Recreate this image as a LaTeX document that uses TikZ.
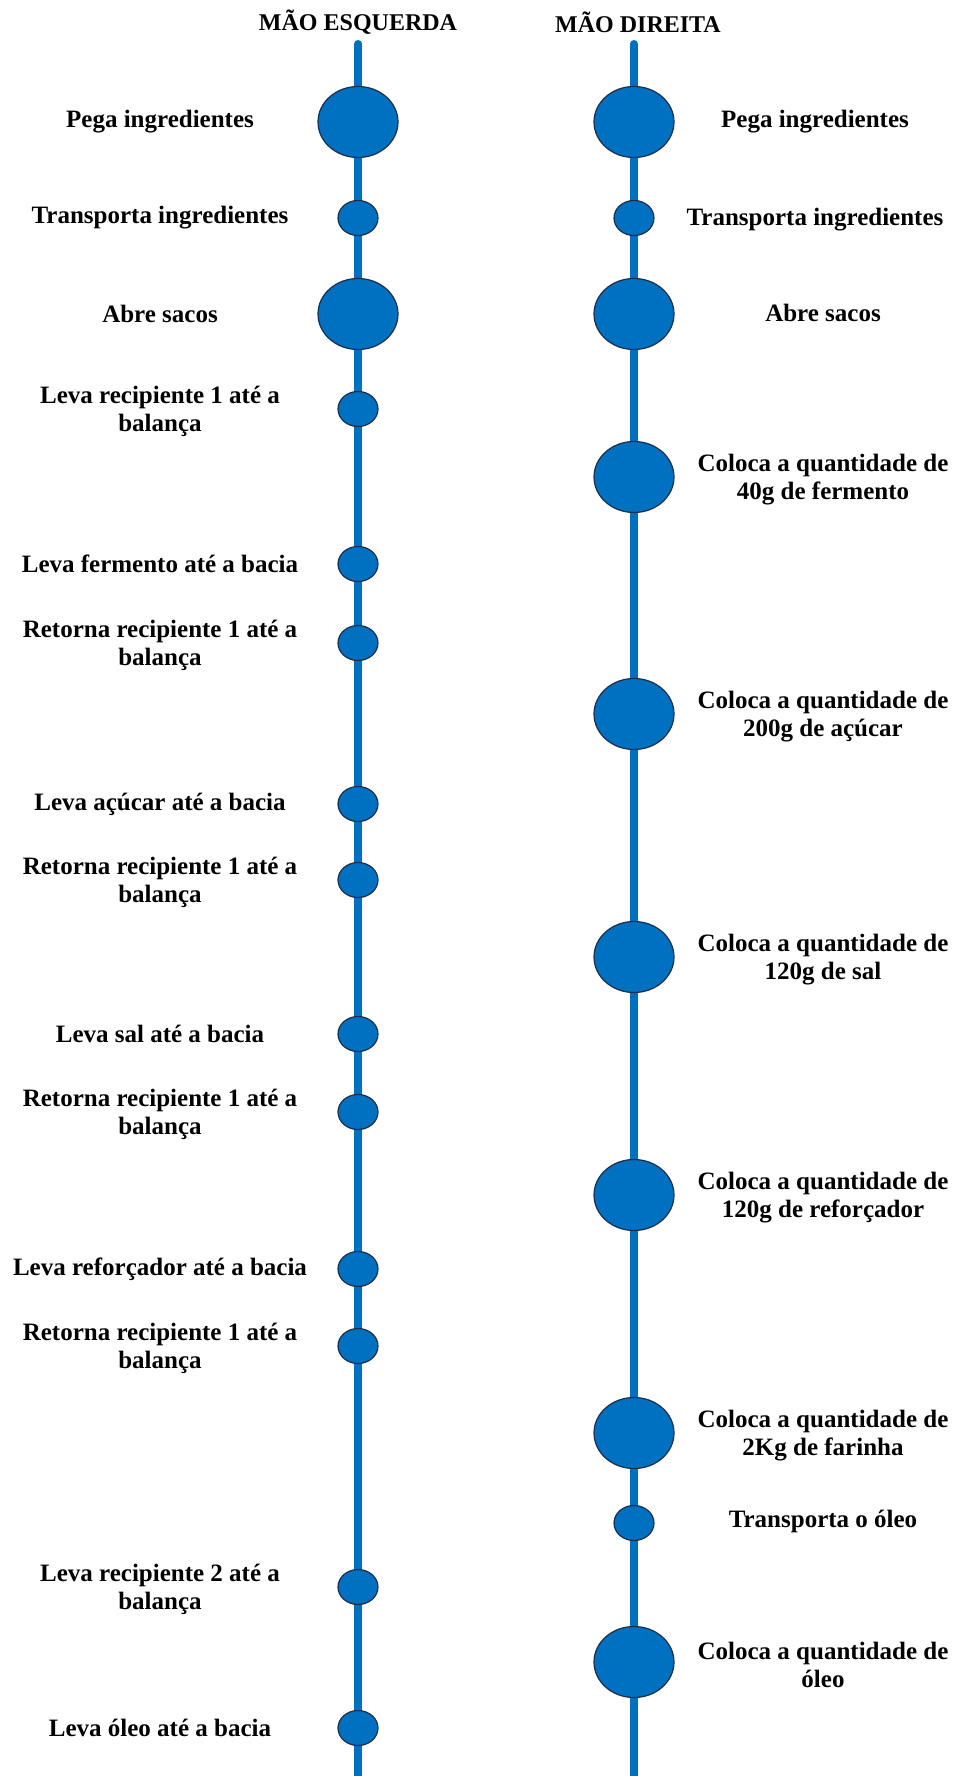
\documentclass[tikz,border=0pt]{standalone}
\usepackage{fontspec}
\setmainfont{Liberation Serif}
\usetikzlibrary{shapes.geometric,backgrounds}
\definecolor{spineblue}{HTML}{0070C0}
\definecolor{edgeblue}{HTML}{1C2E4A}
\begin{document}
\begin{tikzpicture}[x=1pt,y=-1pt,
  spine/.style={draw=spineblue,line width=8pt,line cap=round},
  bigop/.style={ellipse,fill=spineblue,draw=edgeblue,line width=1.2pt,minimum width=80pt,minimum height=71pt,inner sep=0pt},
  smallop/.style={ellipse,fill=spineblue,draw=edgeblue,line width=1.2pt,minimum width=40pt,minimum height=35pt,inner sep=0pt},
  lbl/.style={font=\bfseries\fontsize{25}{28}\selectfont,align=center,inner sep=0pt},
  ttl/.style={font=\bfseries\fontsize{24}{28}\selectfont,inner sep=0pt}]
\useasboundingbox (0,0) rectangle (964,1776);

% titles
\node[ttl] (tL) at (358,22) {MÃO ESQUERDA};
\node[ttl] (tR) at (638,22) {MÃO DIREITA};

% spine end points
\coordinate (lt) at (358,44);
\coordinate (lb) at (358,1790);
\coordinate (rt) at (634,44);
\coordinate (rb) at (634,1790);

% left hand operations
\node[bigop]   (L1)  at (358,122)  {};
\node[smallop] (L2)  at (358,218)  {};
\node[bigop]   (L3)  at (358,314)  {};
\node[smallop] (L4)  at (358,409)  {};
\node[smallop] (L5)  at (358,564)  {};
\node[smallop] (L6)  at (358,643)  {};
\node[smallop] (L7)  at (358,804)  {};
\node[smallop] (L8)  at (358,880)  {};
\node[smallop] (L9)  at (358,1034) {};
\node[smallop] (L10) at (358,1112) {};
\node[smallop] (L11) at (358,1269) {};
\node[smallop] (L12) at (358,1346) {};
\node[smallop] (L13) at (358,1587) {};
\node[smallop] (L14) at (358,1728) {};

\node[lbl] (tL1)  at (160,122)  {Pega ingredientes};
\node[lbl] (tL2)  at (160,218)  {Transporta ingredientes};
\node[lbl] (tL3)  at (160,314)  {Abre sacos};
\node[lbl] (tL4)  at (160,411)  {Leva recipiente 1 até a\\balança};
\node[lbl] (tL5)  at (160,564)  {Leva fermento até a bacia};
\node[lbl] (tL6)  at (160,645)  {Retorna recipiente 1 até a\\balança};
\node[lbl] (tL7)  at (160,804)  {Leva açúcar até a bacia};
\node[lbl] (tL8)  at (160,882)  {Retorna recipiente 1 até a\\balança};
\node[lbl] (tL9)  at (160,1034) {Leva sal até a bacia};
\node[lbl] (tL10) at (160,1114) {Retorna recipiente 1 até a\\balança};
\node[lbl] (tL11) at (160,1269) {Leva reforçador até a bacia};
\node[lbl] (tL12) at (160,1348) {Retorna recipiente 1 até a\\balança};
\node[lbl] (tL13) at (160,1589) {Leva recipiente 2 até a\\balança};
\node[lbl] (tL14) at (160,1728) {Leva óleo até a bacia};

% right hand operations
\node[bigop]   (R1)  at (634,122)  {};
\node[smallop] (R2)  at (634,218)  {};
\node[bigop]   (R3)  at (634,314)  {};
\node[bigop]   (R4)  at (634,477)  {};
\node[bigop]   (R5)  at (634,714)  {};
\node[bigop]   (R6)  at (634,957)  {};
\node[bigop]   (R7)  at (634,1195) {};
\node[bigop]   (R8)  at (634,1433) {};
\node[smallop] (R9)  at (634,1523) {};
\node[bigop]   (R10) at (634,1662) {};

\node[lbl] (tR1)  at (815,122)  {Pega ingredientes};
\node[lbl] (tR2)  at (815,220)  {Transporta ingredientes};
\node[lbl] (tR3)  at (823,313)  {Abre sacos};
\node[lbl] (tR4)  at (823,480)  {Coloca a quantidade de\\40g de fermento};
\node[lbl] (tR5)  at (823,717)  {Coloca a quantidade de\\200g de açúcar};
\node[lbl] (tR6)  at (823,960)  {Coloca a quantidade de\\120g de sal};
\node[lbl] (tR7)  at (823,1198) {Coloca a quantidade de\\120g de reforçador};
\node[lbl] (tR8)  at (823,1436) {Coloca a quantidade de\\2Kg de farinha};
\node[lbl] (tR9)  at (823,1521) {Transporta o óleo};
\node[lbl] (tR10) at (823,1665) {Coloca a quantidade de\\óleo};

\begin{scope}[on background layer]
\fill[white] (0,0) rectangle (964,1776);
\draw[spine] (lt) -- (L1) -- (L2) -- (L3) -- (L4) -- (L5) -- (L6) -- (L7)
  -- (L8) -- (L9) -- (L10) -- (L11) -- (L12) -- (L13) -- (L14) -- (lb);
\draw[spine] (rt) -- (R1) -- (R2) -- (R3) -- (R4) -- (R5) -- (R6) -- (R7)
  -- (R8) -- (R9) -- (R10) -- (rb);
\end{scope}
\end{tikzpicture}
\end{document}
